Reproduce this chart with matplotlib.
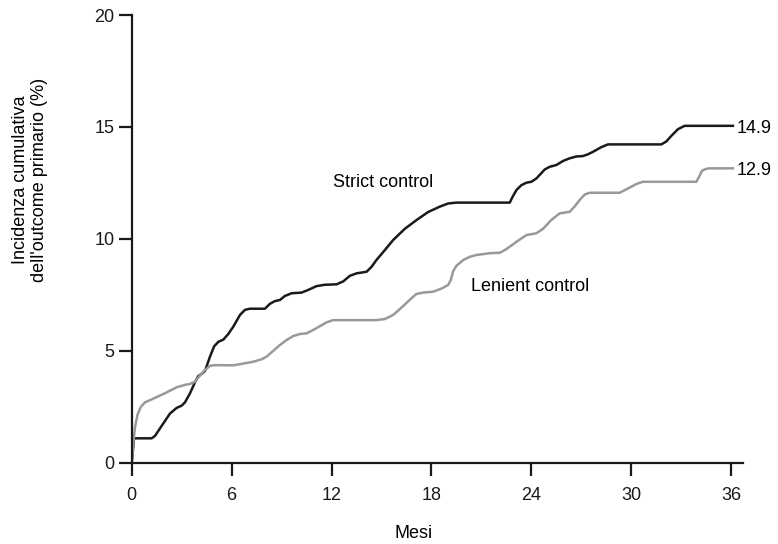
import matplotlib
matplotlib.use("Agg")
import matplotlib.pyplot as plt

plt.rcParams['font.family'] = ['Liberation Sans', 'DejaVu Sans']

# mesi / incidenza cumulativa (%)
strict_x = [0, 0.14, 1.2, 1.4, 1.9, 2.3, 2.7, 3.0, 3.2, 3.5, 3.8, 4.0, 4.2, 4.4,
            4.7, 4.95, 5.2, 5.5, 5.8, 6.1, 6.5, 6.8, 7.1, 8.0, 8.3, 8.6, 8.9, 9.2,
            9.6, 10.2, 10.6, 11.1, 11.6, 12.3, 12.7, 13.1, 13.5, 14.1, 14.4, 14.7,
            15.2, 15.7, 16.4, 17.1, 17.8, 18.5, 19.0, 19.5, 22.7, 22.85, 23.1,
            23.4, 23.7, 24.0, 24.3, 24.8, 25.1, 25.5, 25.9, 26.3, 26.7, 27.1, 27.4,
            27.7, 28.2, 28.6, 31.8, 32.1, 32.4, 32.8, 33.2, 36.1]
strict_y = [0, 1.09, 1.09, 1.2, 1.76, 2.2, 2.45, 2.55, 2.7, 3.1, 3.6, 3.87, 3.97,
            4.1, 4.74, 5.2, 5.4, 5.5, 5.75, 6.08, 6.6, 6.83, 6.88, 6.88, 7.1, 7.22,
            7.27, 7.45, 7.57, 7.6, 7.72, 7.89, 7.95, 7.97, 8.1, 8.35, 8.46, 8.53,
            8.75, 9.06, 9.5, 9.95, 10.45, 10.84, 11.2, 11.44, 11.58, 11.62, 11.62,
            11.85, 12.18, 12.4, 12.51, 12.55, 12.7, 13.1, 13.22, 13.3, 13.48, 13.6,
            13.68, 13.7, 13.78, 13.89, 14.1, 14.22, 14.22, 14.35, 14.6, 14.9,
            15.05, 15.05]

lenient_x = [0, 0.1, 0.2, 0.35, 0.55, 0.8, 1.2, 1.9, 2.7, 3.2, 3.5, 3.8, 4.1, 4.4,
             4.7, 5.0, 6.1, 7.3, 7.8, 8.1, 8.5, 8.9, 9.3, 9.7, 10.1, 10.5, 10.9,
             11.3, 11.7, 12.1, 14.7, 15.2, 15.7, 16.3, 16.8, 17.1, 17.5, 18.1,
             18.6, 19.0, 19.15, 19.3, 19.5, 19.9, 20.3, 20.7, 21.5, 22.1, 22.4,
             22.7, 23.2, 23.7, 24.3, 24.7, 25.2, 25.7, 26.3, 26.6, 26.9, 27.2,
             27.5, 29.3, 29.8, 30.3, 30.7, 33.9, 34.05, 34.25, 34.5, 34.7, 36.1]
lenient_y = [0, 0.9, 1.6, 2.15, 2.5, 2.7, 2.83, 3.07, 3.37, 3.48, 3.52, 3.62, 3.9,
             4.14, 4.33, 4.36, 4.35, 4.51, 4.62, 4.74, 5.0, 5.26, 5.48, 5.66, 5.75,
             5.78, 5.93, 6.1, 6.27, 6.37, 6.37, 6.42, 6.6, 7.0, 7.35, 7.54, 7.6,
             7.64, 7.78, 7.94, 8.15, 8.55, 8.8, 9.05, 9.2, 9.28, 9.36, 9.38, 9.5,
             9.65, 9.92, 10.17, 10.25, 10.45, 10.85, 11.14, 11.21, 11.45, 11.74,
             11.98, 12.06, 12.06, 12.25, 12.45, 12.55, 12.55, 12.75, 13.05, 13.13,
             13.15, 13.15]

x_ticks = [0, 6, 12, 18, 24, 30, 36]
y_ticks = [0, 5, 10, 15, 20]
end_labels = ["14.9", "12.9"]

fs = 13

fig = plt.figure(figsize=(7.78, 5.44), dpi=100)
ax = fig.add_axes([0.1693, 0.1494, 0.7856, 0.823])

ax.plot(strict_x, strict_y, color='#1a1a1a', lw=1.8, solid_joinstyle='round')
ax.plot(lenient_x, lenient_y, color='#999999', lw=1.8, solid_joinstyle='round')

ax.text(strict_x[-1] + 0.2, strict_y[-1] - 0.1, end_labels[0], fontsize=fs, va='center', ha='left')
ax.text(lenient_x[-1] + 0.2, lenient_y[-1] - 0.1, end_labels[1], fontsize=fs, va='center', ha='left')

ax.text(12.08, 12.5, "Strict control", fontsize=fs, va='center', ha='left')
ax.text(20.35, 7.89, "Lenient control", fontsize=fs, va='center', ha='left')

ax.set_xlim(0, 36.7)
ax.set_ylim(0, 20)
ax.set_xticks(x_ticks)
ax.set_yticks(y_ticks)

for s in ['top', 'right']:
    ax.spines[s].set_visible(False)
for s in ['left', 'bottom']:
    ax.spines[s].set_linewidth(1.6)
    ax.spines[s].set_color('#1a1a1a')
ax.spines['left'].set_bounds(0, 20)

ax.tick_params(axis='both', direction='out', length=9.5, width=1.6, color='#1a1a1a',
               labelsize=fs, labelcolor='#1a1a1a')
ax.tick_params(axis='x', pad=8)
ax.tick_params(axis='y', pad=3)

fig.text(414 / 778, 1 - 534 / 544, "Mesi", fontsize=fs, ha='center', va='center')
fig.text(30 / 778, 1 - 180 / 544, "Incidenza cumulativa\ndell'outcome primario (%)",
         fontsize=fs, rotation=90, ha='center', va='center', multialignment='center')

fig.savefig('out.png', dpi=100)
